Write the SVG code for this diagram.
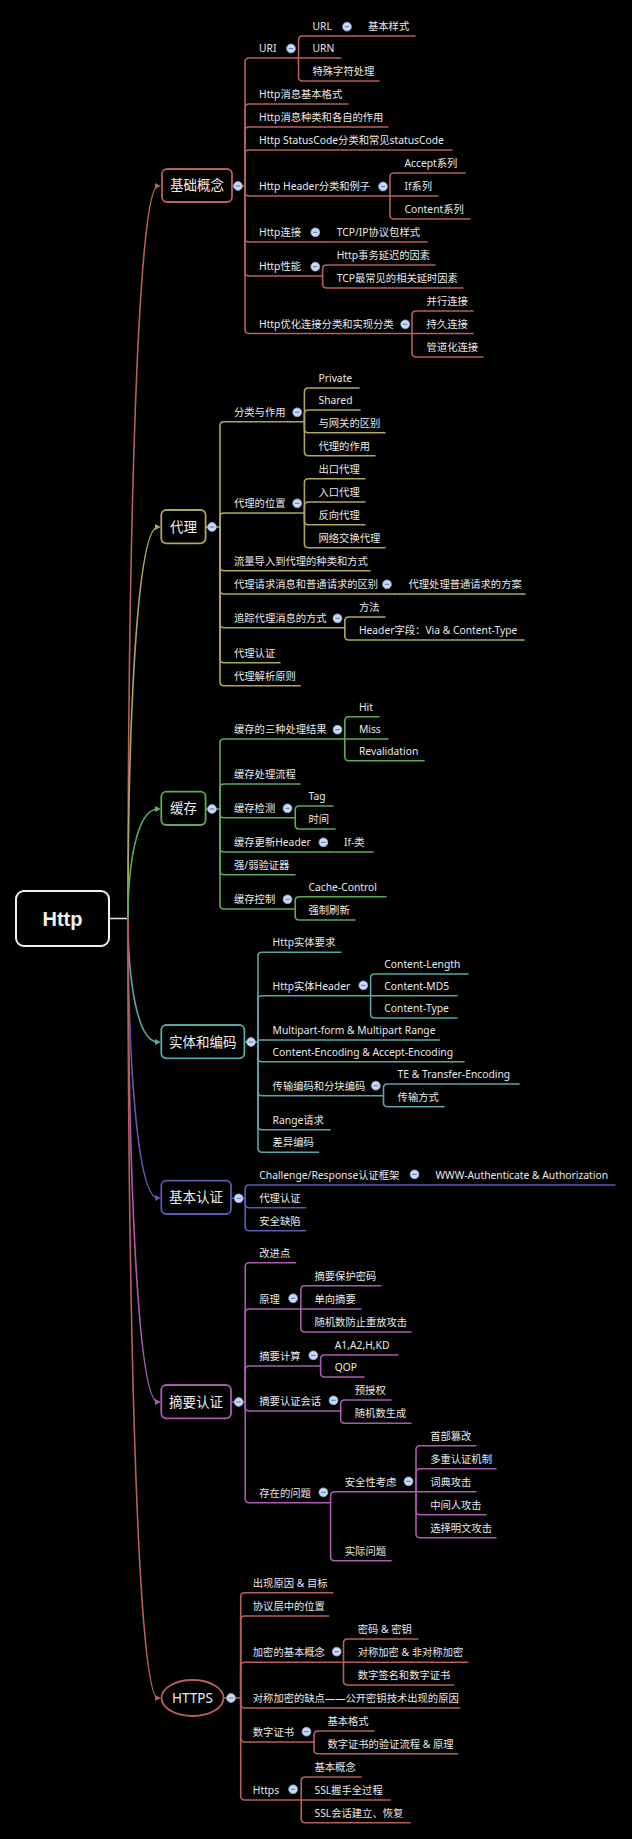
<svg xmlns="http://www.w3.org/2000/svg" xmlns:xlink="http://www.w3.org/1999/xlink" width="632" height="1839" viewBox="0 0 632 1839">
<style>
.t{font-family:"Noto Sans","Noto Sans CJK SC",sans-serif;font-size:10.3px;fill:#e8e8e8}
.mt{font-family:"Noto Sans","Noto Sans CJK SC",sans-serif;font-size:13.5px;fill:#eeeeee;text-anchor:middle}
.root{font-family:"Liberation Sans","Noto Sans CJK SC",sans-serif;font-weight:bold;font-size:20px;fill:#f2f2f2;text-anchor:middle}
.l{fill:none;stroke-width:1.6;stroke-linecap:round}
.box{fill:#000;stroke-width:1.8}
.R{stroke:#b65f5b}.O{stroke:#ada75b}.G{stroke:#5cab58}.T{stroke:#56a9a4}.P{stroke:#5f58b1}.M{stroke:#a95bb0}
</style>
<defs>
<g id="btn"><circle r="4.4" fill="#cbdaf3" stroke="#8ea7d8" stroke-width="0.8"/><path d="M-2.2,0H2.2" stroke="#5b79bf" stroke-width="1.1"/></g>
<marker id="aR" markerUnits="userSpaceOnUse" markerWidth="7" markerHeight="7" refX="3" refY="3" orient="auto"><path d="M0,0L6,3L0,6z" fill="#b65f5b"/></marker>
<marker id="aO" markerUnits="userSpaceOnUse" markerWidth="7" markerHeight="7" refX="3" refY="3" orient="auto"><path d="M0,0L6,3L0,6z" fill="#ada75b"/></marker>
<marker id="aG" markerUnits="userSpaceOnUse" markerWidth="7" markerHeight="7" refX="3" refY="3" orient="auto"><path d="M0,0L6,3L0,6z" fill="#5cab58"/></marker>
<marker id="aT" markerUnits="userSpaceOnUse" markerWidth="7" markerHeight="7" refX="3" refY="3" orient="auto"><path d="M0,0L6,3L0,6z" fill="#56a9a4"/></marker>
<marker id="aP" markerUnits="userSpaceOnUse" markerWidth="7" markerHeight="7" refX="3" refY="3" orient="auto"><path d="M0,0L6,3L0,6z" fill="#5f58b1"/></marker>
<marker id="aM" markerUnits="userSpaceOnUse" markerWidth="7" markerHeight="7" refX="3" refY="3" orient="auto"><path d="M0,0L6,3L0,6z" fill="#a95bb0"/></marker>
</defs>
<rect width="632" height="1839" fill="#000"/>

<g id="connectors">
<path class="l" stroke="#e0e0e0" d="M109,918.5H128"/>
<path class="l R" marker-end="url(#aR)" d="M128,918C128,552 137,186 158,186"/>
<path class="l O" marker-end="url(#aO)" d="M128,918C128,722 137,527 158,527"/>
<path class="l G" marker-end="url(#aG)" d="M128,918C128,863 137,809 158,809"/>
<path class="l T" marker-end="url(#aT)" d="M128,918C128,980 137,1042 158,1042"/>
<path class="l P" marker-end="url(#aP)" d="M128,918C128,1058 137,1198 158,1198"/>
<path class="l M" marker-end="url(#aM)" d="M128,918C128,1160 137,1402 158,1402"/>
<path class="l R" marker-end="url(#aR)" d="M128,918C128,1308 137,1698 158,1698"/>

<g class="l R">
<path d="M232,186H245"/>
<path d="M245,186V62Q245,58 249,58H298.5"/>
<path d="M245,186V108Q245,104 249,104H348"/>
<path d="M245,186V131Q245,127 249,127H388"/>
<path d="M245,186V154Q245,150 249,150H452"/>
<path d="M245,186V192Q245,196 249,196H390"/>
<path d="M245,186V238Q245,242 249,242H322.5"/>
<path d="M245,186V272Q245,276 249,276H322.6"/>
<path d="M245,186V329.5Q245,333.5 249,333.5H412"/>
<path d="M298.5,58V40Q298.5,36 302.5,36H354"/>
<path d="M354,36H415"/>
<path d="M298.5,58H341"/>
<path d="M298.5,58V77Q298.5,81 302.5,81H379"/>
<path d="M390,196V177Q390,173 394,173H465"/>
<path d="M390,196H438"/>
<path d="M390,196V215Q390,219 394,219H470"/>
<path d="M322.5,242H427"/>
<path d="M322.6,276V269Q322.6,265 326.6,265H435"/>
<path d="M322.6,276V284Q322.6,288 326.6,288H463"/>
<path d="M412,333.5V315Q412,311 416,311H473"/>
<path d="M412,333.5H473"/>
<path d="M412,333.5V353Q412,357 416,357H483"/>
</g>

<g class="l O">
<path d="M205.6,527H220"/>
<path d="M220,527V425.7Q220,421.7 224,421.7H304.4"/>
<path d="M220,527V517Q220,513 224,513H304.4"/>
<path d="M220,527V566.7Q220,570.7 224,570.7H370"/>
<path d="M220,527V590Q220,594 224,594H394.5"/>
<path d="M394.5,594H525"/>
<path d="M220,527V623.7Q220,627.7 224,627.7H344.8"/>
<path d="M220,527V658.7Q220,662.7 224,662.7H280"/>
<path d="M220,527V681.7Q220,685.7 224,685.7H300"/>
<path d="M304.4,421.7V392Q304.4,388 308.4,388H359"/>
<path d="M304.4,421.7V414Q304.4,410 308.4,410H360"/>
<path d="M304.4,421.7V428.7Q304.4,432.7 308.4,432.7H385"/>
<path d="M304.4,421.7V451.7Q304.4,455.7 308.4,455.7H375"/>
<path d="M304.4,513V482.7Q304.4,478.7 308.4,478.7H365"/>
<path d="M304.4,513V506Q304.4,502 308.4,502H365"/>
<path d="M304.4,513V520.7Q304.4,524.7 308.4,524.7H365"/>
<path d="M304.4,513V543.7Q304.4,547.7 308.4,547.7H385"/>
<path d="M344.8,627.7V621Q344.8,617 348.8,617H385"/>
<path d="M344.8,627.7V636Q344.8,640 348.8,640H524"/>
</g>

<g class="l G">
<path d="M205.6,809H220"/>
<path d="M220,809V743Q220,739 224,739H344.8"/>
<path d="M220,809V788Q220,784 224,784H300"/>
<path d="M220,809V813.7Q220,817.7 224,817.7H295.2"/>
<path d="M220,809V848Q220,852 224,852H330"/>
<path d="M330,852H373"/>
<path d="M220,809V870.7Q220,874.7 224,874.7H295"/>
<path d="M220,809V905Q220,909 224,909H295.2"/>
<path d="M344.8,739V720.7Q344.8,716.7 348.8,716.7H379"/>
<path d="M344.8,739H388"/>
<path d="M344.8,739V756.7Q344.8,760.7 348.8,760.7H424"/>
<path d="M295.2,817.7V810Q295.2,806 299.2,806H333"/>
<path d="M295.2,817.7V825Q295.2,829 299.2,829H335"/>
<path d="M295.2,909V900.7Q295.2,896.7 299.2,896.7H386"/>
<path d="M295.2,909V916Q295.2,920 299.2,920H355"/>
</g>

<g class="l T">
<path d="M244.4,1042H258"/>
<path d="M258,1042V956.3Q258,952.3 262,952.3H341"/>
<path d="M258,1042V999.7Q258,995.7 262,995.7H370.6"/>
<path d="M258,1042Q258,1040 260,1040H439.5"/>
<path d="M258,1042V1057.7Q258,1061.7 262,1061.7H464"/>
<path d="M258,1042V1091.7Q258,1095.7 262,1095.7H383.5"/>
<path d="M258,1042V1125.7Q258,1129.7 262,1129.7H330"/>
<path d="M258,1042V1148.3Q258,1152.3 262,1152.3H318.5"/>
<path d="M370.6,995.7V978Q370.6,974 374.6,974H468"/>
<path d="M370.6,995.7H457"/>
<path d="M370.6,995.7V1014Q370.6,1018 374.6,1018H457"/>
<path d="M383.5,1095.7V1088Q383.5,1084 387.5,1084H519"/>
<path d="M383.5,1095.7V1102.7Q383.5,1106.7 387.5,1106.7H444"/>
</g>

<g class="l P">
<path d="M231,1198.3H245.2"/>
<path d="M245.2,1198.3V1189Q245.2,1185 249.2,1185H421.5"/>
<path d="M421.5,1185H615"/>
<path d="M245.2,1198.3V1203.7Q245.2,1207.7 249.2,1207.7H305.6"/>
<path d="M245.2,1198.3V1226.7Q245.2,1230.7 249.2,1230.7H305.6"/>
</g>

<g class="l M">
<path d="M231,1402H245.2"/>
<path d="M245.2,1402V1266.7Q245.2,1262.7 249.2,1262.7H295.6"/>
<path d="M245.2,1402V1313Q245.2,1309 249.2,1309H300.8"/>
<path d="M245.2,1402V1370Q245.2,1366 249.2,1366H320.6"/>
<path d="M245.2,1402V1407Q245.2,1411 249.2,1411H340.7"/>
<path d="M245.2,1402V1498.7Q245.2,1502.7 249.2,1502.7H330.6"/>
<path d="M300.8,1309V1289.7Q300.8,1285.7 304.8,1285.7H381"/>
<path d="M300.8,1309H361"/>
<path d="M300.8,1309V1328Q300.8,1332 304.8,1332H411"/>
<path d="M320.6,1366V1359Q320.6,1355 324.6,1355H398"/>
<path d="M320.6,1366V1373Q320.6,1377 324.6,1377H364"/>
<path d="M340.7,1411V1404Q340.7,1400 344.7,1400H391"/>
<path d="M340.7,1411V1419.3Q340.7,1423.3 344.7,1423.3H411"/>
<path d="M330.6,1502.7V1495.7Q330.6,1491.7 334.6,1491.7H416"/>
<path d="M330.6,1502.7V1556.7Q330.6,1560.7 334.6,1560.7H391"/>
<path d="M416,1491.7V1449.7Q416,1445.7 420,1445.7H476"/>
<path d="M416,1491.7V1472.7Q416,1468.7 420,1468.7H496"/>
<path d="M416,1491.7H476"/>
<path d="M416,1491.7V1510.7Q416,1514.7 420,1514.7H486"/>
<path d="M416,1491.7V1533.7Q416,1537.7 420,1537.7H496"/>
</g>

<g class="l R">
<path d="M223.5,1698H240.7"/>
<path d="M240.7,1698V1596.7Q240.7,1592.7 244.7,1592.7H332.7"/>
<path d="M240.7,1698V1620Q240.7,1616 244.7,1616H328.6"/>
<path d="M240.7,1698V1666.3Q240.7,1662.3 244.7,1662.3H343.5"/>
<path d="M240.7,1698V1704Q240.7,1708 244.7,1708H459.7"/>
<path d="M240.7,1698V1738Q240.7,1742 244.7,1742H314"/>
<path d="M240.7,1698V1796Q240.7,1800 244.7,1800H301.2"/>
<path d="M343.5,1662.3V1643Q343.5,1639 347.5,1639H418"/>
<path d="M343.5,1662.3H467.7"/>
<path d="M343.5,1662.3V1681Q343.5,1685 347.5,1685H453.6"/>
<path d="M314,1742V1735Q314,1731 318,1731H374"/>
<path d="M314,1742V1749.7Q314,1753.7 318,1753.7H457.7"/>
<path d="M301.2,1800V1781Q301.2,1777 305.2,1777H361"/>
<path d="M301.2,1800H390"/>
<path d="M301.2,1800V1818.7Q301.2,1822.7 305.2,1822.7H410"/>
</g>
</g>

<g id="root">
<rect x="16" y="891" width="93" height="55" rx="8" fill="#000" stroke="#f0f0f0" stroke-width="2"/>
<text class="root" x="62.5" y="925.7">Http</text>
</g>

<g id="n1">
<rect class="box R" x="162" y="169" width="70" height="33" rx="5"/>
<text class="mt" x="197" y="190.3">基础概念</text>
<use href="#btn" x="238" y="186"/>
</g>
<g id="n1-1"><text class="t" x="259" y="52">URI</text><use href="#btn" x="291" y="48.5"/></g>
<g id="n1-1-1"><text class="t" x="312.5" y="30">URL</text><use href="#btn" x="347" y="26.7"/></g>
<g id="n1-1-1-1"><text class="t" x="368" y="30">基本样式</text></g>
<g id="n1-1-2"><text class="t" x="312.5" y="52">URN</text></g>
<g id="n1-1-3"><text class="t" x="312.5" y="75">特殊字符处理</text></g>
<g id="n1-2"><text class="t" x="259" y="98">Http消息基本格式</text></g>
<g id="n1-3"><text class="t" x="259" y="121">Http消息种类和各自的作用</text></g>
<g id="n1-4"><text class="t" x="259" y="144">Http StatusCode分类和常见statusCode</text></g>
<g id="n1-5"><text class="t" x="259" y="190">Http Header分类和例子</text><use href="#btn" x="383" y="186.5"/></g>
<g id="n1-5-1"><text class="t" x="404.5" y="167">Accept系列</text></g>
<g id="n1-5-2"><text class="t" x="404.5" y="190">If系列</text></g>
<g id="n1-5-3"><text class="t" x="404.5" y="213">Content系列</text></g>
<g id="n1-6"><text class="t" x="259" y="236">Http连接</text><use href="#btn" x="315.3" y="232.3"/></g>
<g id="n1-6-1"><text class="t" x="336.7" y="236">TCP/IP协议包样式</text></g>
<g id="n1-7"><text class="t" x="259" y="270">Http性能</text><use href="#btn" x="315.3" y="266.7"/></g>
<g id="n1-7-1"><text class="t" x="336.7" y="259">Http事务延迟的因素</text></g>
<g id="n1-7-2"><text class="t" x="336.7" y="282">TCP最常见的相关延时因素</text></g>
<g id="n1-8"><text class="t" x="259" y="327.5">Http优化连接分类和实现分类</text><use href="#btn" x="405.2" y="324.3"/></g>
<g id="n1-8-1"><text class="t" x="426.6" y="305">并行连接</text></g>
<g id="n1-8-2"><text class="t" x="426.6" y="327.5">持久连接</text></g>
<g id="n1-8-3"><text class="t" x="426.6" y="351">管道化连接</text></g>

<g id="n2">
<rect class="box O" x="161.3" y="510" width="44.3" height="33.3" rx="5"/>
<text class="mt" x="183.4" y="531.5">代理</text>
<use href="#btn" x="212" y="527"/>
</g>
<g id="n2-1"><text class="t" x="234" y="415.7">分类与作用</text><use href="#btn" x="297.2" y="412.3"/></g>
<g id="n2-1-1"><text class="t" x="318.5" y="382">Private</text></g>
<g id="n2-1-2"><text class="t" x="318.5" y="404">Shared</text></g>
<g id="n2-1-3"><text class="t" x="318.5" y="426.7">与网关的区别</text></g>
<g id="n2-1-4"><text class="t" x="318.5" y="449.7">代理的作用</text></g>
<g id="n2-2"><text class="t" x="234" y="507">代理的位置</text><use href="#btn" x="297.2" y="503.3"/></g>
<g id="n2-2-1"><text class="t" x="318.5" y="472.7">出口代理</text></g>
<g id="n2-2-2"><text class="t" x="318.5" y="496">入口代理</text></g>
<g id="n2-2-3"><text class="t" x="318.5" y="518.7">反向代理</text></g>
<g id="n2-2-4"><text class="t" x="318.5" y="541.7">网络交换代理</text></g>
<g id="n2-3"><text class="t" x="234" y="564.7">流量导入到代理的种类和方式</text></g>
<g id="n2-4"><text class="t" x="234" y="588">代理请求消息和普通请求的区别</text><use href="#btn" x="387" y="584.3"/></g>
<g id="n2-4-1"><text class="t" x="408.5" y="588">代理处理普通请求的方案</text></g>
<g id="n2-5"><text class="t" x="234" y="621.7">追踪代理消息的方式</text><use href="#btn" x="337.5" y="618.3"/></g>
<g id="n2-5-1"><text class="t" x="358.9" y="611">方法</text></g>
<g id="n2-5-2"><text class="t" x="358.9" y="634">Header字段：Via &amp; Content-Type</text></g>
<g id="n2-6"><text class="t" x="234" y="656.7">代理认证</text></g>
<g id="n2-7"><text class="t" x="234" y="679.7">代理解析原则</text></g>

<g id="n3">
<rect class="box G" x="161.3" y="791.7" width="44.3" height="33.3" rx="5"/>
<text class="mt" x="183.4" y="813">缓存</text>
<use href="#btn" x="212" y="809"/>
</g>
<g id="n3-1"><text class="t" x="234" y="733">缓存的三种处理结果</text><use href="#btn" x="337.5" y="729.7"/></g>
<g id="n3-1-1"><text class="t" x="358.9" y="710.7">Hit</text></g>
<g id="n3-1-2"><text class="t" x="358.9" y="733">Miss</text></g>
<g id="n3-1-3"><text class="t" x="358.9" y="754.7">Revalidation</text></g>
<g id="n3-2"><text class="t" x="234" y="778">缓存处理流程</text></g>
<g id="n3-3"><text class="t" x="234" y="811.7">缓存检测</text><use href="#btn" x="287.5" y="808.3"/></g>
<g id="n3-3-1"><text class="t" x="308.5" y="800">Tag</text></g>
<g id="n3-3-2"><text class="t" x="308.5" y="823">时间</text></g>
<g id="n3-4"><text class="t" x="234" y="846">缓存更新Header</text><use href="#btn" x="323.4" y="842.3"/></g>
<g id="n3-4-1"><text class="t" x="344" y="846">If-类</text></g>
<g id="n3-5"><text class="t" x="234" y="868.7">强/弱验证器</text></g>
<g id="n3-6"><text class="t" x="234" y="903">缓存控制</text><use href="#btn" x="287.5" y="899.3"/></g>
<g id="n3-6-1"><text class="t" x="308.5" y="890.7">Cache-Control</text></g>
<g id="n3-6-2"><text class="t" x="308.5" y="914">强制刷新</text></g>

<g id="n4">
<rect class="box T" x="161.3" y="1025" width="83.1" height="33.3" rx="5"/>
<text class="mt" x="202.8" y="1046.5">实体和编码</text>
<use href="#btn" x="251" y="1042"/>
</g>
<g id="n4-1"><text class="t" x="272.6" y="946.3">Http实体要求</text></g>
<g id="n4-2"><text class="t" x="272.6" y="989.7">Http实体Header</text><use href="#btn" x="363.3" y="985.3"/></g>
<g id="n4-2-1"><text class="t" x="384.3" y="968">Content-Length</text></g>
<g id="n4-2-2"><text class="t" x="384.3" y="989.7">Content-MD5</text></g>
<g id="n4-2-3"><text class="t" x="384.3" y="1012">Content-Type</text></g>
<g id="n4-3"><text class="t" x="272.6" y="1034">Multipart-form &amp; Multipart Range</text></g>
<g id="n4-4"><text class="t" x="272.6" y="1055.7">Content-Encoding &amp; Accept-Encoding</text></g>
<g id="n4-5"><text class="t" x="272.6" y="1089.7">传输编码和分块编码</text><use href="#btn" x="375.8" y="1085.7"/></g>
<g id="n4-5-1"><text class="t" x="397.6" y="1078">TE &amp; Transfer-Encoding</text></g>
<g id="n4-5-2"><text class="t" x="397.6" y="1100.7">传输方式</text></g>
<g id="n4-6"><text class="t" x="272.6" y="1123.7">Range请求</text></g>
<g id="n4-7"><text class="t" x="272.6" y="1146.3">差异编码</text></g>

<g id="n5">
<rect class="box P" x="161.3" y="1180.7" width="69.7" height="33.3" rx="5"/>
<text class="mt" x="196.1" y="1202">基本认证</text>
<use href="#btn" x="238.7" y="1198.3"/>
</g>
<g id="n5-1"><text class="t" x="259.3" y="1179">Challenge/Response认证框架</text><use href="#btn" x="414.5" y="1174.3"/></g>
<g id="n5-1-1"><text class="t" x="435.5" y="1179">WWW-Authenticate &amp; Authorization</text></g>
<g id="n5-2"><text class="t" x="259.3" y="1201.7">代理认证</text></g>
<g id="n5-3"><text class="t" x="259.3" y="1224.7">安全缺陷</text></g>

<g id="n6">
<rect class="box M" x="161.3" y="1385" width="69.7" height="33.3" rx="5"/>
<text class="mt" x="196.1" y="1406.5">摘要认证</text>
<use href="#btn" x="238.7" y="1402"/>
</g>
<g id="n6-1"><text class="t" x="259.3" y="1256.7">改进点</text></g>
<g id="n6-2"><text class="t" x="259.3" y="1303">原理</text><use href="#btn" x="293.1" y="1298.3"/></g>
<g id="n6-2-1"><text class="t" x="314.5" y="1279.7">摘要保护密码</text></g>
<g id="n6-2-2"><text class="t" x="314.5" y="1303">单向摘要</text></g>
<g id="n6-2-3"><text class="t" x="314.5" y="1326">随机数防止重放攻击</text></g>
<g id="n6-3"><text class="t" x="259.3" y="1360">摘要计算</text><use href="#btn" x="313.3" y="1355.3"/></g>
<g id="n6-3-1"><text class="t" x="334.7" y="1349">A1,A2,H,KD</text></g>
<g id="n6-3-2"><text class="t" x="334.7" y="1371">QOP</text></g>
<g id="n6-4"><text class="t" x="259.3" y="1405">摘要认证会话</text><use href="#btn" x="333.5" y="1400.3"/></g>
<g id="n6-4-1"><text class="t" x="354.8" y="1394">预授权</text></g>
<g id="n6-4-2"><text class="t" x="354.8" y="1417.3">随机数生成</text></g>
<g id="n6-5"><text class="t" x="259.3" y="1496.7">存在的问题</text><use href="#btn" x="323.4" y="1492.3"/></g>
<g id="n6-5-1"><text class="t" x="344.8" y="1485.7">安全性考虑</text><use href="#btn" x="408.5" y="1481.3"/></g>
<g id="n6-5-1-1"><text class="t" x="430.2" y="1439.7">首部篡改</text></g>
<g id="n6-5-1-2"><text class="t" x="430.2" y="1462.7">多重认证机制</text></g>
<g id="n6-5-1-3"><text class="t" x="430.2" y="1485.7">词典攻击</text></g>
<g id="n6-5-1-4"><text class="t" x="430.2" y="1508.7">中间人攻击</text></g>
<g id="n6-5-1-5"><text class="t" x="430.2" y="1531.7">选择明文攻击</text></g>
<g id="n6-5-2"><text class="t" x="344.8" y="1554.7">实际问题</text></g>

<g id="n7">
<ellipse cx="192.5" cy="1698" rx="31" ry="18" fill="#000" stroke="#b65f5b" stroke-width="1.8"/>
<text class="mt" x="192.5" y="1702.8">HTTPS</text>
<use href="#btn" x="231" y="1698"/>
</g>
<g id="n7-1"><text class="t" x="252.8" y="1586.7">出现原因 &amp; 目标</text></g>
<g id="n7-2"><text class="t" x="252.8" y="1610">协议层中的位置</text></g>
<g id="n7-3"><text class="t" x="252.8" y="1656.3">加密的基本概念</text><use href="#btn" x="336.7" y="1651.7"/></g>
<g id="n7-3-1"><text class="t" x="357.7" y="1633">密码 &amp; 密钥</text></g>
<g id="n7-3-2"><text class="t" x="357.7" y="1656.3">对称加密 &amp; 非对称加密</text></g>
<g id="n7-3-3"><text class="t" x="357.7" y="1679">数字签名和数字证书</text></g>
<g id="n7-4"><text class="t" x="252.8" y="1702">对称加密的缺点——公开密钥技术出现的原因</text></g>
<g id="n7-5"><text class="t" x="252.8" y="1736">数字证书</text><use href="#btn" x="306.5" y="1731.7"/></g>
<g id="n7-5-1"><text class="t" x="327.4" y="1725">基本格式</text></g>
<g id="n7-5-2"><text class="t" x="327.4" y="1747.7">数字证书的验证流程 &amp; 原理</text></g>
<g id="n7-6"><text class="t" x="252.8" y="1794">Https</text><use href="#btn" x="293.1" y="1789.3"/></g>
<g id="n7-6-1"><text class="t" x="314.5" y="1771">基本概念</text></g>
<g id="n7-6-2"><text class="t" x="314.5" y="1794">SSL握手全过程</text></g>
<g id="n7-6-3"><text class="t" x="314.5" y="1816.7">SSL会话建立、恢复</text></g>
</svg>
